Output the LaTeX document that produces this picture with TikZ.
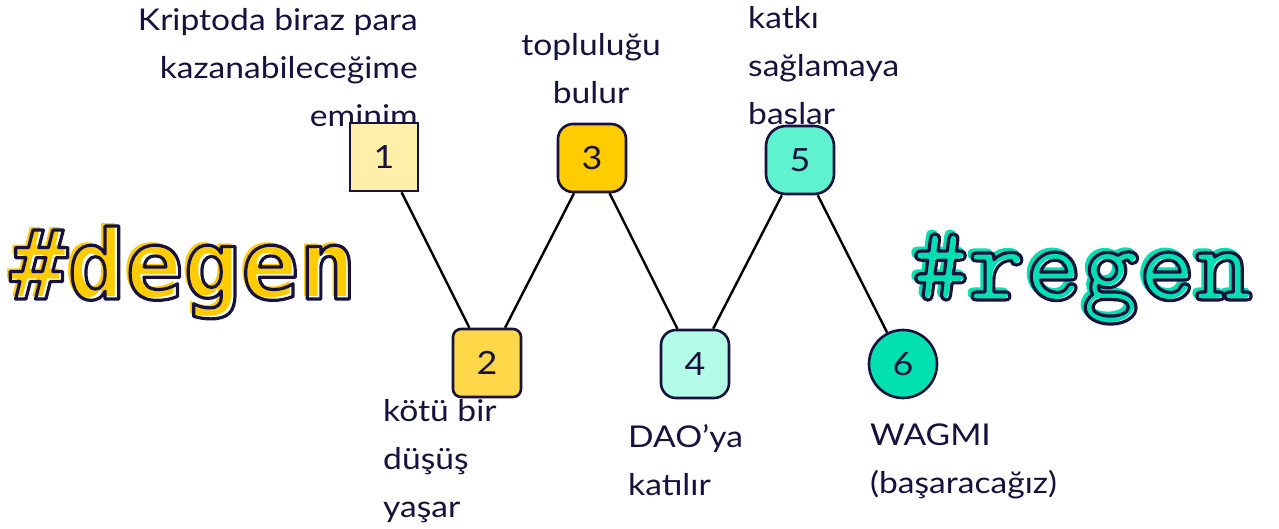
\documentclass[tikz,border=0pt]{standalone}
\usepackage{fontspec}
\setmainfont{Lato}[FakeStretch=1.12]
\newfontfamily\degenfont{DejaVu Sans Mono}[BoldFont={DejaVu Sans Mono Bold}]
\newfontfamily\regenfont{lmmonolt10-bold.otf}
\definecolor{ink}{HTML}{17123D}
\definecolor{yone}{HTML}{FFEFA8}
\definecolor{ytwo}{HTML}{FFD84A}
\definecolor{ythree}{HTML}{FFCC00}
\definecolor{gfour}{HTML}{B3FCE8}
\definecolor{gfive}{HTML}{5EF2CE}
\definecolor{gsix}{HTML}{00E0B0}
\newcommand\strokedtext[1]{\special{pdf:literal direct 3.2 w 1 j 1 Tr}#1\special{pdf:literal direct 0 Tr}}
\newcommand\fattext[1]{\special{pdf:literal direct 3 w 1 j 2 Tr}#1\special{pdf:literal direct 0 Tr}}
\tikzset{
  stepnode/.style={draw=ink, line width=2.6pt, minimum width=68pt, minimum height=68pt, inner sep=0pt, text=ink, font=\fontsize{32}{32}\selectfont},
  lbl/.style={text=ink, font=\fontsize{30}{48}\selectfont, inner sep=0pt},
  conn/.style={draw=black, line width=2.4pt},
  bigtxt/.style={inner sep=0pt, anchor=base west}
}
\begin{document}
\begin{tikzpicture}[x=1pt,y=-1pt]
\useasboundingbox (0,0) rectangle (1279,528);
% labels
\node[lbl, align=right, anchor=north east] (t1) at (418,8) {Kriptoda biraz para\\kazanabileceğime\\eminim};
\node[lbl, align=center, anchor=north] (t3) at (591,33) {topluluğu\\bulur};
\node[lbl, align=left, anchor=north west] (t5) at (748,6) {katkı\\sağlamaya\\baslar};
\node[lbl, align=left, anchor=north west] (t2) at (383,399) {kötü bir\\düşüş\\yaşar};
\node[lbl, align=left, anchor=north west] (t4) at (628,424) {DAO’ya\\katılır};
\node[lbl, align=left, anchor=north west] (t6) at (870,424) {WAGMI\\(başaracağız)};
% nodes
\node[stepnode, fill=yone] (n1) at (384,157) {1};
\node[stepnode, fill=ytwo, rounded corners=8pt] (n2) at (487,363) {2};
\node[stepnode, fill=ythree, rounded corners=15pt] (n3) at (592,158) {3};
\node[stepnode, fill=gfour, rounded corners=15pt] (n4) at (695,364) {4};
\node[stepnode, fill=gfive, rounded corners=20pt] (n5) at (800,160) {5};
\node[stepnode, circle, minimum size=68pt, fill=gsix] (n6) at (903,364) {6};
% connectors
\draw[conn] (n1) -- (n2);
\draw[conn] (n2) -- (n3);
\draw[conn] (n3) -- (n4);
\draw[conn] (n4) -- (n5);
\draw[conn] (n5) -- (n6);
% big words
\node[bigtxt, text=ythree, font=\degenfont\bfseries\fontsize{96}{96}\selectfont] (dg1) at (7,296) {\#degen};
\node[bigtxt, text=ink, font=\degenfont\bfseries\fontsize{96}{96}\selectfont] (dg2) at (10,299) {\strokedtext{\#degen}};
\node[bigtxt, text=gsix, font=\regenfont\fontsize{108}{108}\selectfont] (rg1) at (909,297) {\fattext{\#regen}};
\node[bigtxt, text=ink, font=\regenfont\fontsize{108}{108}\selectfont] (rg2) at (912,300) {\strokedtext{\#regen}};
\end{tikzpicture}
\end{document}
